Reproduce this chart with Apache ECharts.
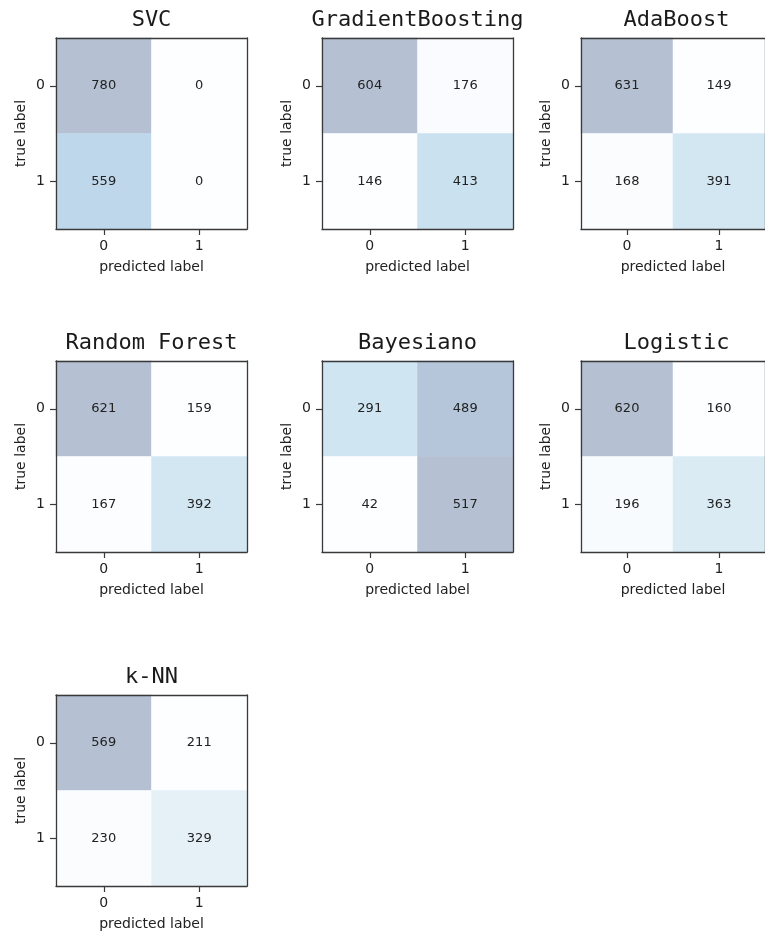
<!DOCTYPE html>
<html>
<head>
<meta charset="utf-8">
<script src="https://cdn.jsdelivr.net/npm/echarts@6/dist/echarts.min.js"></script>
<style>
  html, body { margin: 0; padding: 0; background: #ffffff; }
  #chart { width: 765px; height: 932px; }
</style>
</head>
<body>
<div id="chart"></div>
<script>
// Confusion matrices: rows = true label (0, 1), columns = predicted label (0, 1)
const modelNames = ['SVC', 'GradientBoosting', 'AdaBoost', 'Random Forest', 'Bayesiano', 'Logistic', 'k-NN'];
const svc              = [[780, 0],   [559, 0]];
const gradientBoosting = [[604, 176], [146, 413]];
const adaBoost         = [[631, 149], [168, 391]];
const randomForest     = [[621, 159], [167, 392]];
const bayesiano        = [[291, 489], [42, 517]];
const logistic         = [[620, 160], [196, 363]];
const knn              = [[569, 211], [230, 329]];
const matrices = [svc, gradientBoosting, adaBoost, randomForest, bayesiano, logistic, knn];
const classLabels = ['0', '1'];

// Panel placement (3 columns, 3 rows)
const colLeft = [56, 322, 581];
const rowTop = [38, 361, 695];
const cellSize = 191;

// "Blues" colour ramp, drawn at 30% opacity over white
const bluesStops = ['#f7fbff', '#deebf7', '#c6dbef', '#9ecae1', '#6baed6', '#4292c6', '#2171b5', '#08519c', '#08306b'];
const alpha = 0.3;
function blendWhite(hex) {
  const r = parseInt(hex.slice(1, 3), 16), g = parseInt(hex.slice(3, 5), 16), b = parseInt(hex.slice(5, 7), 16);
  const f = c => Math.round(alpha * c + (1 - alpha) * 255);
  return 'rgb(' + f(r) + ',' + f(g) + ',' + f(b) + ')';
}
const rampColors = bluesStops.map(blendWhite);

const axisColor = '#3a3a3a';
const textColor = '#222222';
const sansFont = 'DejaVu Sans';
const monoFont = 'DejaVu Sans Mono';

const titles = [], grids = [], xAxes = [], yAxes = [], series = [], visualMaps = [];

matrices.forEach((m, i) => {
  const col = i % 3, row = Math.floor(i / 3);
  const left = colLeft[col], top = rowTop[row];

  titles.push({
    text: modelNames[i],
    left: left + cellSize / 2,
    top: top - 29,
    textAlign: 'center',
    padding: 0,
    textStyle: { fontFamily: monoFont, fontSize: 22, fontWeight: 'normal', color: '#1a1a1a' }
  });

  grids.push({ left: left, top: top, width: cellSize, height: cellSize, containLabel: false });

  // bottom axis with ticks and name, top axis as frame only
  xAxes.push({
    type: 'category', gridIndex: i, data: classLabels, position: 'bottom', z: 10,
    axisLine: { show: true, lineStyle: { color: axisColor, width: 1.3 } },
    axisTick: { show: true, alignWithLabel: true, length: 6, lineStyle: { color: axisColor, width: 1.2 } },
    axisLabel: { margin: 10, fontFamily: sansFont, fontSize: 14, color: textColor },
    splitLine: { show: false },
    name: 'predicted label', nameLocation: 'middle', nameGap: 31,
    nameTextStyle: { fontFamily: sansFont, fontSize: 14, color: textColor }
  });
  xAxes.push({
    type: 'category', gridIndex: i, data: classLabels, position: 'top', z: 10,
    axisLine: { show: true, lineStyle: { color: axisColor, width: 1.3 } },
    axisTick: { show: false }, axisLabel: { show: false }, splitLine: { show: false }
  });

  yAxes.push({
    type: 'category', gridIndex: i, data: classLabels, inverse: true, position: 'left', z: 10,
    axisLine: { show: true, lineStyle: { color: axisColor, width: 1.3 } },
    axisTick: { show: true, alignWithLabel: true, length: 6, lineStyle: { color: axisColor, width: 1.2 } },
    axisLabel: { margin: 11, fontFamily: sansFont, fontSize: 14, color: textColor },
    splitLine: { show: false },
    name: 'true label', nameLocation: 'middle', nameGap: 28, nameRotate: 90,
    nameTextStyle: { fontFamily: sansFont, fontSize: 14, color: textColor }
  });
  yAxes.push({
    type: 'category', gridIndex: i, data: classLabels, inverse: true, position: 'right', z: 10,
    axisLine: { show: true, lineStyle: { color: axisColor, width: 1.3 } },
    axisTick: { show: false }, axisLabel: { show: false }, splitLine: { show: false }
  });

  const data = [];
  m.forEach((rowVals, t) => rowVals.forEach((v, p) => data.push([p, t, v])));
  const flat = m.flat();

  series.push({
    type: 'heatmap',
    xAxisIndex: 2 * i, yAxisIndex: 2 * i,
    data: data,
    label: { show: true, fontFamily: sansFont, fontSize: 13, color: textColor },
    emphasis: { disabled: true },
    itemStyle: { borderWidth: 0 }
  });

  visualMaps.push({
    show: false, seriesIndex: i, dimension: 2,
    min: Math.min(...flat), max: Math.max(...flat),
    inRange: { color: rampColors }
  });
});

const chart = echarts.init(document.getElementById('chart'), null, { renderer: 'canvas' });
chart.setOption({
  backgroundColor: '#ffffff',
  animation: false,
  title: titles,
  grid: grids,
  xAxis: xAxes,
  yAxis: yAxes,
  visualMap: visualMaps,
  series: series
});
</script>
</body>
</html>
